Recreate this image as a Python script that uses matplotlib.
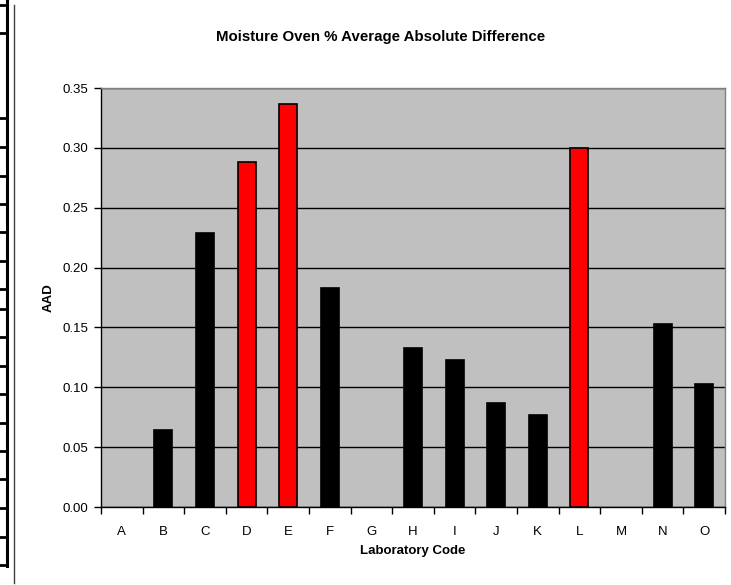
import numpy as np
import matplotlib.pyplot as plt
from matplotlib.lines import Line2D

labs = ["A", "B", "C", "D", "E", "F", "G", "H", "I", "J", "K", "L", "M", "N", "O"]
aad = [0.0, 0.064, 0.229, 0.288, 0.337, 0.183, 0.0, 0.133, 0.123, 0.087, 0.077, 0.300, 0.0, 0.153, 0.103]
flagged = ["D", "E", "L"]

plt.rcParams['font.family'] = ['Liberation Sans', 'DejaVu Sans']

W, H = 731, 585
fig = plt.figure(figsize=(W / 100, H / 100), dpi=100)
ax = fig.add_axes([101 / W, 1 - 507 / H, 624 / W, 419 / H])

x = np.arange(len(labs))
colors = ["red" if l in flagged else "black" for l in labs]
edges = [1.2 if v > 0 else 0 for v in aad]
ax.bar(x, aad, width=0.43, color=colors, edgecolor="black", linewidth=edges, zorder=3)

ax.set_facecolor("#C0C0C0")
ax.set_xlim(-0.5, len(labs) - 0.5)
ax.set_ylim(0, 0.35)
ax.set_yticks(np.arange(0, 0.351, 0.05))
ax.set_yticklabels([f"{v:.2f}" for v in np.arange(0, 0.351, 0.05)])
ax.yaxis.grid(True, color="black", linewidth=1, zorder=1)
ax.set_axisbelow(True)

ax.set_xticks(np.arange(-0.5, len(labs)), minor=False)
ax.set_xticklabels([])
ax.set_xticks(x, minor=True)
ax.set_xticklabels(labs, minor=True)
ax.tick_params(axis="x", which="major", direction="out", length=5, width=1)
ax.tick_params(axis="x", which="minor", length=0, pad=14, labelsize=9.5)
ax.tick_params(axis="y", direction="out", length=5, width=1, labelsize=9.5, pad=4)

for s in ["left", "bottom"]:
    ax.spines[s].set_color("black")
    ax.spines[s].set_linewidth(1)
for s in ["top", "right"]:
    ax.spines[s].set_color("#808080")
    ax.spines[s].set_linewidth(1)

ax.set_xlabel("Laboratory Code", fontsize=9.5, fontweight="bold", labelpad=5)
ax.set_ylabel("AAD", fontsize=9.5, fontweight="bold", labelpad=6)
fig.text(381 / W, 1 - 37 / H, "Moisture Oven % Average Absolute Difference",
         ha="center", va="center", fontsize=10.8, fontweight="bold")

# table edge at the left side of the page
fig.add_artist(Line2D([6.5 / W, 6.5 / W], [1, 1 - 566 / H], color="black", linewidth=2.2))
for yy in [5, 33, 118, 147, 176, 204, 232, 261, 289, 309, 337, 366, 394, 423, 451, 479, 508, 537, 565]:
    fig.add_artist(Line2D([0, 7 / W], [1 - yy / H, 1 - yy / H], color="black", linewidth=2))
fig.add_artist(Line2D([13.5 / W, 13.5 / W], [1 - 5 / H, 1 - 583 / H], color="#404040", linewidth=1))

fig.savefig("out.png", dpi=100)
